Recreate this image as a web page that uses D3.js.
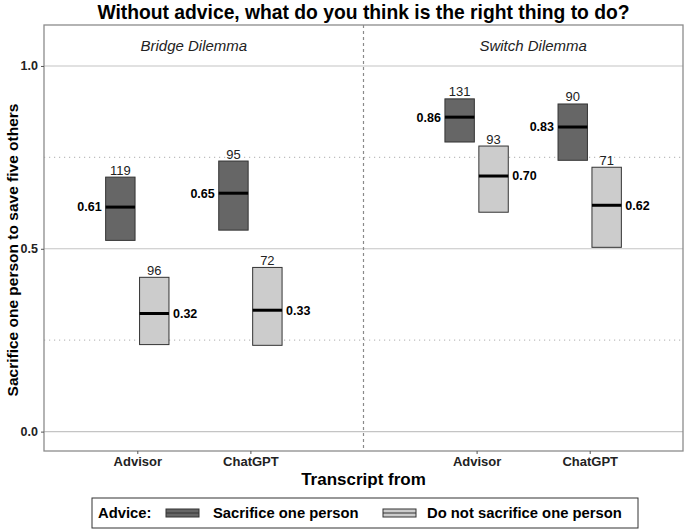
<!DOCTYPE html>
<html>
<head>
<meta charset="utf-8">
<script src="https://cdn.jsdelivr.net/npm/d3@7"></script>
<style>
body { margin: 0; background: #fff; }
text { font-family: "Liberation Sans", Arial, sans-serif; }
</style>
</head>
<body>
<svg id="chart" width="685" height="531"></svg>
<script>
// chart values
var dilemmas = ["Bridge Dilemma", "Switch Dilemma"];
var sources = ["Advisor", "ChatGPT"];
var advice = ["Sacrifice one person", "Do not sacrifice one person"];

// one entry per bar, order: dilemma, source, advice
var bar_dilemma = [0, 0, 0, 0, 1, 1, 1, 1];
var bar_source  = [0, 0, 1, 1, 0, 0, 1, 1];
var bar_advice  = [0, 1, 0, 1, 0, 1, 0, 1];
var bar_mean = [0.614, 0.323, 0.652, 0.332, 0.860, 0.699, 0.833, 0.619];
var bar_low  = [0.523, 0.238, 0.551, 0.236, 0.792, 0.600, 0.742, 0.504];
var bar_high = [0.696, 0.422, 0.740, 0.449, 0.910, 0.781, 0.896, 0.723];
var bar_n    = [119, 96, 95, 72, 131, 93, 90, 71];

var y_ticks = [0, 0.5, 1.0];
var y_minor = [0.25, 0.75];

var fills = ["#666666", "#cccccc"];

var svg = d3.select('#chart');
var p_left = 44, p_right = 683, p_top = 25, p_bottom = 451;

var x = d3.scaleLinear().domain([0.175, 5.825]).range([p_left, p_right]);
var y = d3.scaleLinear().domain([-0.053, 1.112]).range([p_bottom, p_top]);

function xpos(d, s) { return d * 3 + s + 1; }
var dodge = 0.15, bw = 0.26;

function center(d) { return xpos(d.d, d.s) + (d.a == 0 ? -dodge : dodge); }

var bars = bar_mean.map(function(m, i) {
    return {d: bar_dilemma[i], s: bar_source[i], a: bar_advice[i],
            mean: m, lo: bar_low[i], hi: bar_high[i], n: bar_n[i]};
});

// title
svg.append('text')
    .attr('x', (p_left + p_right) / 2).attr('y', 19)
    .attr('text-anchor', 'middle')
    .style('font-size', '19.3px').style('font-weight', 'bold')
    .text('Without advice, what do you think is the right thing to do?');

// grid lines
svg.append('g').selectAll('line').data(y_ticks).enter().append('line')
    .attr('x1', p_left).attr('x2', p_right)
    .attr('y1', function(d) {return y(d)}).attr('y2', function(d) {return y(d)})
    .attr('stroke', '#c4c4c4').attr('stroke-width', 1.1);
svg.append('g').selectAll('line').data(y_minor).enter().append('line')
    .attr('x1', p_left).attr('x2', p_right)
    .attr('y1', function(d) {return y(d)}).attr('y2', function(d) {return y(d)})
    .attr('stroke', '#bdbdbd').attr('stroke-width', 1.2)
    .attr('stroke-dasharray', '1.2,3.8');

// divider between dilemmas
svg.append('line')
    .attr('x1', x(3)).attr('x2', x(3)).attr('y1', p_top).attr('y2', p_bottom)
    .attr('stroke', '#8a8a8a').attr('stroke-width', 1.2)
    .attr('stroke-dasharray', '3,3');

// dilemma labels
svg.selectAll('text.strip').data(dilemmas).enter().append('text')
    .attr('class', 'strip')
    .attr('x', function(d, i) {return x(i * 3 + 1.5)}).attr('y', 51)
    .attr('text-anchor', 'middle')
    .style('font-size', '15px').style('font-style', 'italic').style('fill', '#222')
    .text(function(d) {return d});

// crossbars
var g = svg.append('g');
g.selectAll('rect.bar').data(bars).enter().append('rect')
    .attr('class', 'bar')
    .attr('x', function(d) {return x(center(d) - bw / 2)})
    .attr('width', x(bw) - x(0))
    .attr('y', function(d) {return y(d.hi)})
    .attr('height', function(d) {return y(d.lo) - y(d.hi)})
    .attr('fill', function(d) {return fills[d.a]})
    .attr('stroke', '#333').attr('stroke-width', 1);
g.selectAll('line.med').data(bars).enter().append('line')
    .attr('class', 'med')
    .attr('x1', function(d) {return x(center(d) - bw / 2)})
    .attr('x2', function(d) {return x(center(d) + bw / 2)})
    .attr('y1', function(d) {return y(d.mean)}).attr('y2', function(d) {return y(d.mean)})
    .attr('stroke', '#000').attr('stroke-width', 3);

// counts above bars
g.selectAll('text.n').data(bars).enter().append('text')
    .attr('class', 'n')
    .attr('x', function(d) {return x(center(d))})
    .attr('y', function(d) {return y(d.hi) - 2.5})
    .attr('text-anchor', 'middle')
    .style('font-size', '13px').style('fill', '#222')
    .text(function(d) {return d.n});

// mean labels beside bars
g.selectAll('text.m').data(bars).enter().append('text')
    .attr('class', 'm')
    .attr('x', function(d) {
        return d.a == 0 ? x(center(d) - bw / 2) - 4 : x(center(d) + bw / 2) + 4;
    })
    .attr('y', function(d) {return y(d.mean)})
    .attr('dy', '0.35em')
    .attr('text-anchor', function(d) {return d.a == 0 ? 'end' : 'start'})
    .style('font-size', '12.5px').style('font-weight', 'bold')
    .text(function(d) {return d.mean.toFixed(2)});

// panel border
svg.append('rect')
    .attr('x', p_left).attr('y', p_top).attr('width', p_right - p_left).attr('height', p_bottom - p_top)
    .attr('fill', 'none').attr('stroke', '#8c8c8c').attr('stroke-width', 1.3);

// axes
var yAxis = svg.append('g').attr('transform', 'translate(' + p_left + ',0)')
    .call(d3.axisLeft(y).tickValues(y_ticks).tickFormat(d3.format('.1f')).tickSize(3));
yAxis.select('.domain').remove();
yAxis.selectAll('line').attr('stroke', '#555');
yAxis.selectAll('text').style('font-size', '12.5px').style('font-weight', 'bold')
    .style('fill', '#222').style('font-family', '"Liberation Sans", Arial, sans-serif');

var xticks = [];
dilemmas.forEach(function(dl, i) {
    sources.forEach(function(s, j) { xticks.push({pos: xpos(i, j), label: s}); });
});
var xAxis = svg.append('g').attr('transform', 'translate(0,' + p_bottom + ')')
    .call(d3.axisBottom(x).tickValues(xticks.map(function(t) {return t.pos}))
          .tickFormat(function(v, i) {return xticks[i].label}).tickSize(3).tickPadding(3));
xAxis.select('.domain').remove();
xAxis.selectAll('line').attr('stroke', '#555');
xAxis.selectAll('text').style('font-size', '13px').style('font-weight', 'bold')
    .style('fill', '#222').style('font-family', '"Liberation Sans", Arial, sans-serif');

svg.append('text')
    .attr('x', (p_left + p_right) / 2).attr('y', 485)
    .attr('text-anchor', 'middle')
    .style('font-size', '17px').style('font-weight', 'bold')
    .text('Transcript from');

svg.append('text')
    .attr('transform', 'translate(18,' + ((p_top + p_bottom) / 2 + 12) + ') rotate(-90)')
    .attr('text-anchor', 'middle')
    .style('font-size', '15.5px').style('font-weight', 'bold')
    .text('Sacrifice one person to save five others');

// legend
var lg = svg.append('g');
lg.append('rect').attr('x', 92).attr('y', 498).attr('width', 546).attr('height', 30)
    .attr('fill', '#fff').attr('stroke', '#333').attr('stroke-width', 1);
lg.append('text').attr('x', 98).attr('y', 518)
    .style('font-size', '14.8px').style('font-weight', 'bold').text('Advice:');
var keyx = [166, 383], labx = [213, 427];
advice.forEach(function(a, i) {
    lg.append('rect').attr('x', keyx[i]).attr('y', 509).attr('width', 33).attr('height', 8)
        .attr('fill', fills[i]).attr('stroke', '#333').attr('stroke-width', 1);
    lg.append('line').attr('x1', keyx[i]).attr('x2', keyx[i] + 33).attr('y1', 513).attr('y2', 513)
        .attr('stroke', '#333').attr('stroke-width', 1.2);
    lg.append('text').attr('x', labx[i]).attr('y', 518)
        .style('font-size', '14.8px').style('font-weight', 'bold').text(a);
});
</script>
</body>
</html>
